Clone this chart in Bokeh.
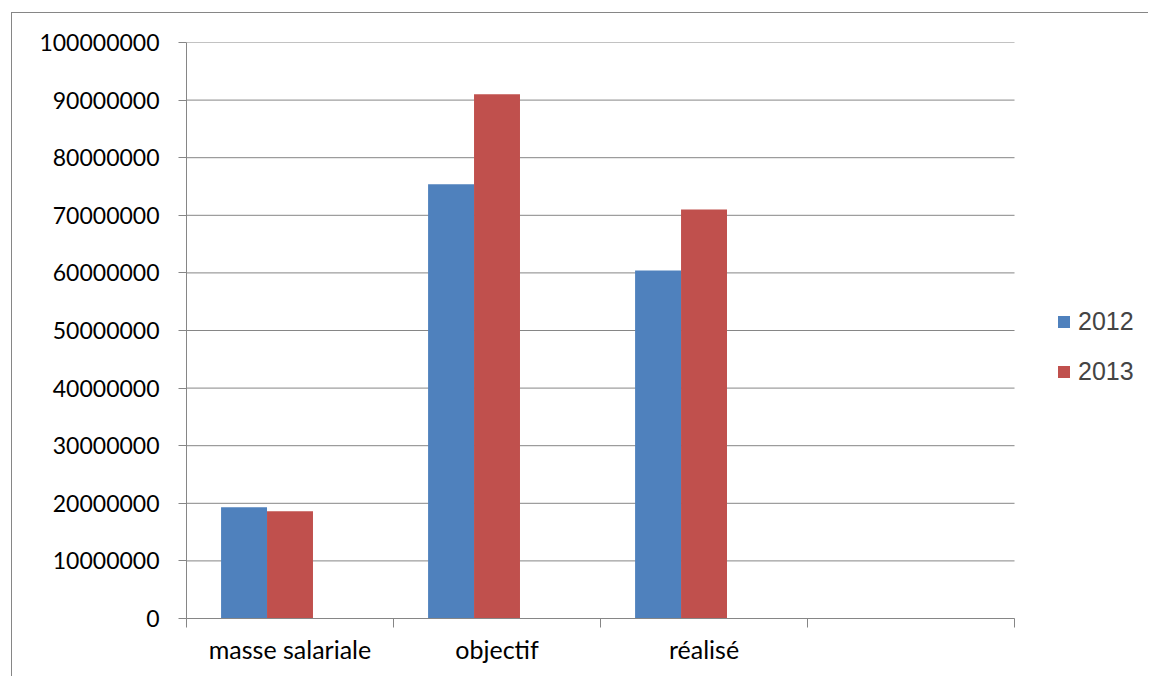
from bokeh.plotting import figure
from bokeh.models import (ColumnDataSource, Range1d, FixedTicker, BasicTickFormatter,
                          Legend, LegendItem)
from bokeh.transform import dodge
from bokeh.embed import file_html
from bokeh.resources import INLINE

# Chart data
categories = ["masse salariale", "objectif", "réalisé", ""]
values_2012 = [19300000, 75400000, 60400000, None]
values_2013 = [18600000, 91000000, 71000000, None]
series_names = ["2012", "2013"]
y_ticks = [0, 10000000, 20000000, 30000000, 40000000, 50000000,
           60000000, 70000000, 80000000, 90000000, 100000000]

BLUE = "#4F81BD"
RED = "#C0504D"
GRAY = "#868686"
AXIS_FONT = "Lato"

n = len(categories)
positions = [i + 0.5 for i in range(n)]
source = ColumnDataSource(data=dict(
    pos=positions,
    v2012=[v if v is not None else float("nan") for v in values_2012],
    v2013=[v if v is not None else float("nan") for v in values_2013],
))

# the frame runs on past the last category to leave room for the legend
p = figure(width=1137, height=664, output_backend="svg", toolbar_location=None,
           x_range=Range1d(0, 4.652), y_range=Range1d(0, 100000000),
           min_border_left=174, min_border_right=0,
           min_border_top=29, min_border_bottom=59)
p.outline_line_color = None
p.background_fill_color = "white"
p.border_fill_color = "white"
# chart border (left and top edges visible inside the window)
p.styles = {"border-left": "1px solid #868686", "border-top": "1px solid #868686",
            "margin-left": "11px", "margin-top": "12px"}

# horizontal gridlines limited to the category area
grid_src = ColumnDataSource(data=dict(y=y_ticks, x0=[0] * len(y_ticks), x1=[n] * len(y_ticks)))
p.segment(x0="x0", x1="x1", y0="y", y1="y", source=grid_src,
          line_color=GRAY, line_width=1)
p.xgrid.grid_line_color = None
p.ygrid.grid_line_color = None

bar_w = 0.222
r1 = p.vbar(x=dodge("pos", -bar_w, range=p.x_range), top="v2012", width=bar_w,
            source=source, fill_color=BLUE, line_color=None)
r2 = p.vbar(x=dodge("pos", 0.0, range=p.x_range), top="v2013", width=bar_w,
            source=source, fill_color=RED, line_color=None)

# x axis: labels at slot centres, tick marks at slot boundaries
xa = p.xaxis[0]
xa.bounds = (0, n)
xa.ticker = FixedTicker(ticks=positions, minor_ticks=list(range(n + 1)))
xa.major_label_overrides = {pos: cat for pos, cat in zip(positions, categories)}
xa.major_tick_line_color = None
xa.major_tick_out = 0
xa.major_tick_in = 0
xa.minor_tick_line_color = GRAY
xa.minor_tick_out = 9
xa.minor_tick_in = 0
xa.axis_line_color = GRAY
xa.major_label_standoff = 6
xa.major_label_text_font = AXIS_FONT
xa.major_label_text_font_size = "25px"
xa.major_label_text_color = "black"

ya = p.yaxis[0]
ya.ticker = FixedTicker(ticks=y_ticks)
ya.formatter = BasicTickFormatter(use_scientific=False)
ya.major_tick_line_color = GRAY
ya.major_tick_out = 8
ya.major_tick_in = 0
ya.minor_tick_line_color = None
ya.axis_line_color = GRAY
ya.major_label_standoff = 19
ya.major_label_text_font = AXIS_FONT
ya.major_label_text_font_size = "23px"
ya.major_label_text_color = "black"

legend = Legend(items=[LegendItem(label=series_names[0], renderers=[r1]),
                       LegendItem(label=series_names[1], renderers=[r2])],
                location=(870, 232), orientation="vertical",
                padding=0, margin=0, spacing=21,
                glyph_width=15, glyph_height=15, label_height=28,
                label_standoff=7,
                label_text_font="Liberation Sans", label_text_font_size="25px",
                border_line_color=None, background_fill_alpha=0)
p.add_layout(legend, "center")

open("out.html", "w").write(file_html(p, INLINE))
